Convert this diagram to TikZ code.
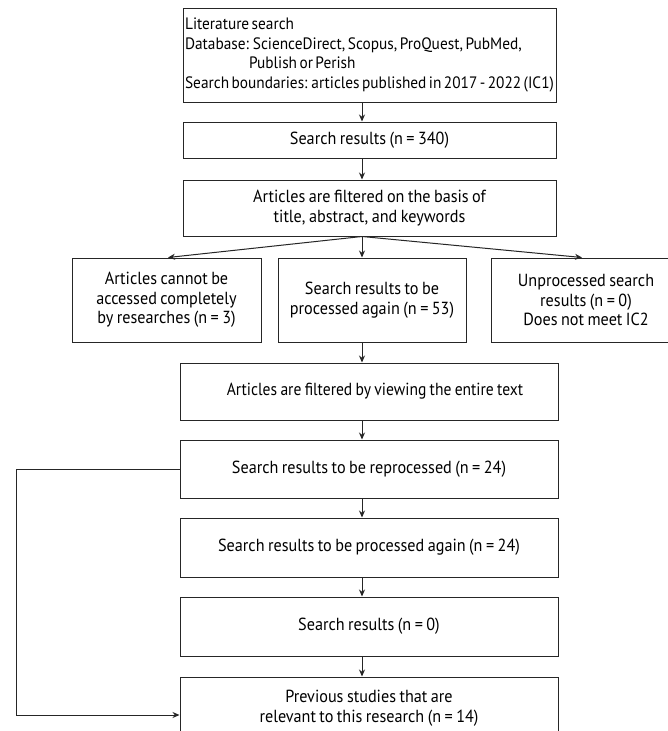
\documentclass[tikz,border=0pt]{standalone}
\usepackage{fontspec}
\setmainfont[FakeStretch=0.925,WordSpace=0.8]{PT Sans}
\newfontfamily\boxonefont[FakeStretch=0.93,WordSpace=0.6]{PT Sans}
\newfontfamily\narrowboxfont[FakeStretch=0.89,WordSpace=0.8]{PT Sans}
\usetikzlibrary{arrows.meta}
\begin{document}
\begin{tikzpicture}[x=1pt,y=-1pt,
  box/.style={draw=black!85,line width=1pt,inner sep=0pt,align=center,font=\fontsize{17.5}{19.5}\selectfont},
  arr/.style={draw=black!85,line width=1pt,-{Stealth[length=7pt,width=6pt]}}]
\useasboundingbox (0,0) rectangle (668,731);
\clip (0,0) rectangle (668,731);
\fill[white] (0,0) rectangle (668,731);
\node[box,minimum width=373pt,minimum height=94pt,align=left,font=\boxonefont\fontsize{16.5}{19.5}\selectfont] (b1) at (369.5,55)
 {Literature search\\Database: ScienceDirect, Scopus, ProQuest, PubMed,\\\hspace*{64pt}Publish or Perish\\Search boundaries: articles published in 2017 - 2022 (IC1)};
\node[box,minimum width=373pt,minimum height=36pt] (b2) at (369.5,140) {Search results (n = 340)};
\node[box,minimum width=373pt,minimum height=56pt] (b3) at (369.5,208) {Articles are filtered on the basis of\\title, abstract, and keywords};
\node[box,minimum width=189pt,minimum height=84pt] (bl) at (166.5,300) {Articles cannot be\\accessed completely\\by researches (n = 3)};
\node[box,minimum width=188pt,minimum height=84pt] (bm) at (372,300) {Search results to be\\processed again (n = 53)};
\node[box,minimum width=190pt,minimum height=84pt] (br) at (586,300) {Unprocessed search\\results (n = 0)\\Does not meet IC2};
\node[box,minimum width=378pt,minimum height=57pt,font=\narrowboxfont\fontsize{17.5}{19.5}\selectfont] (b4) at (369,391.5) {\hspace*{12pt}Articles are filtered by viewing the entire text};
\node[box,minimum width=378pt,minimum height=58pt] (b5) at (369,469) {Search results to be reprocessed (n = 24)};
\node[box,minimum width=378pt,minimum height=59pt] (b6) at (369,547.5) {Search results to be processed again (n = 24)};
\node[box,minimum width=378pt,minimum height=59pt] (b7) at (369,626.5) {Search results (n = 0)};
\node[box,minimum width=378pt,minimum height=62pt] (b8) at (369,708) {Previous studies that are\\relevant to this research (n = 14)};
\coordinate (ax) at (362,0);
\coordinate (lx) at (168,0);
\coordinate (rx) at (582,0);
\coordinate (lp) at (16,0);
\coordinate (ly) at (0,715);
\draw[arr] (b1.south -| ax) -- (b2.north -| ax);
\draw[arr] (b2.south -| ax) -- (b3.north -| ax);
\draw[arr] (b3.south -| ax) -- (bm.north -| ax);
\draw[arr] (b3.south -| ax) -- (bl.north -| lx);
\draw[arr] (b3.south -| ax) -- (br.north -| rx);
\draw[arr] (bm.south -| ax) -- (b4.north -| ax);
\draw[arr] (b4.south -| ax) -- (b5.north -| ax);
\draw[arr] (b5.south -| ax) -- (b6.north -| ax);
\draw[arr] (b6.south -| ax) -- (b7.north -| ax);
\draw[arr] (b7.south -| ax) -- (b8.north -| ax);
\draw[arr] (b5.west) -- (b5.west -| lp) -- (lp |- ly) -- (b8.west |- ly);
\end{tikzpicture}
\end{document}
